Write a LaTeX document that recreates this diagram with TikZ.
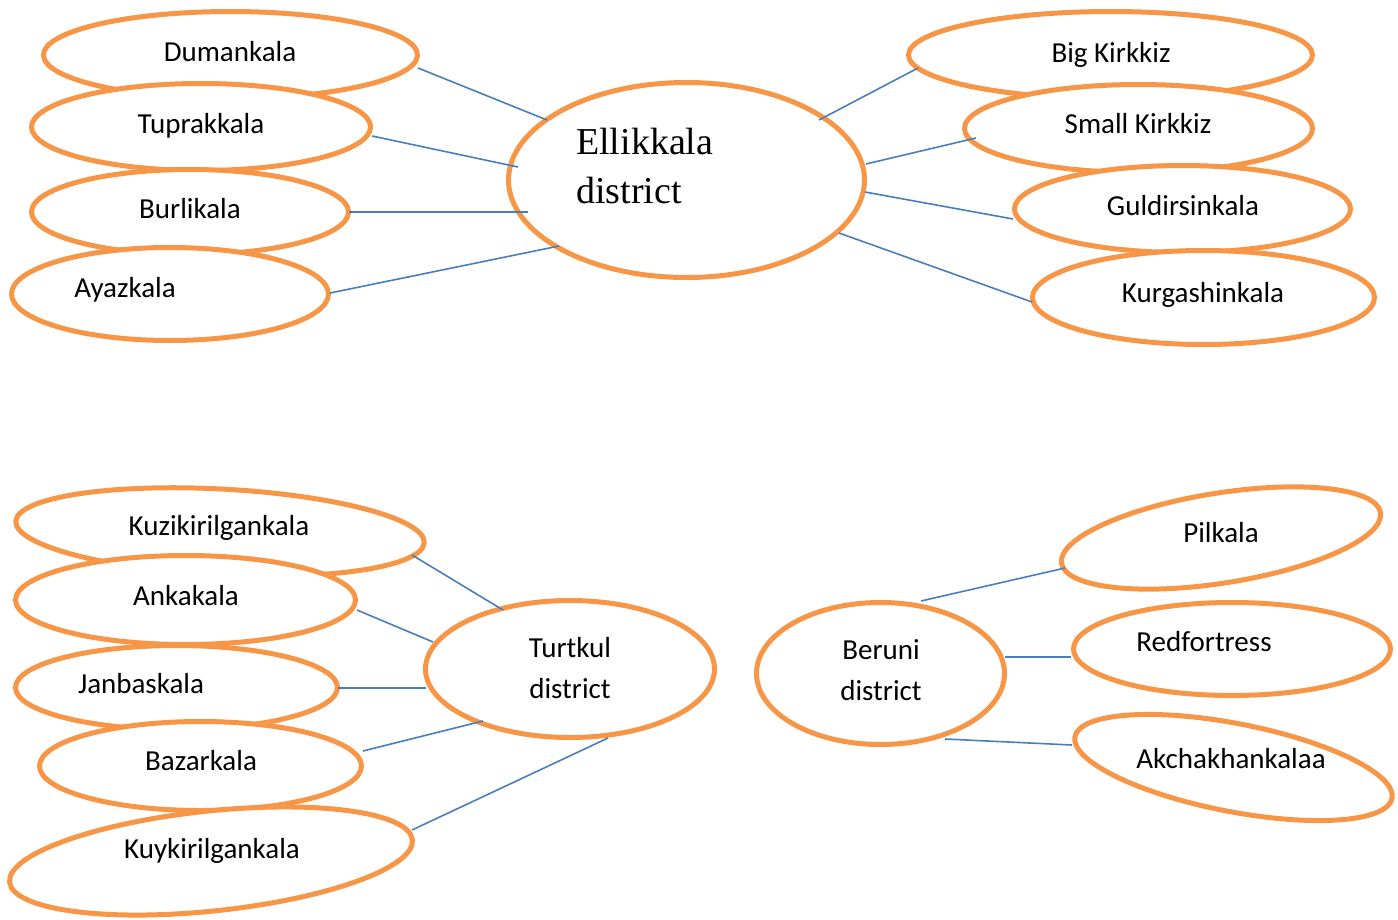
\documentclass[tikz,border=0pt]{standalone}
\usepackage{fontspec}
\setmainfont{Carlito}
\newfontfamily\tms{Liberation Serif}
\usetikzlibrary{shapes.geometric,calc}
\definecolor{ora}{HTML}{F79646}
\definecolor{lnk}{HTML}{4A7EBB}
\tikzset{
  oval/.style={ellipse, draw=ora, line width=5pt, fill=white, inner sep=0pt},
  lbl/.style={inner sep=0pt, anchor=base, font=\fontsize{29}{35}\selectfont},
  big/.style={inner sep=0pt, anchor=base west, font=\tms\fontsize{38}{46}\selectfont},
  link/.style={draw=lnk, line width=1.6pt}
}
\newcommand\ov[5]{\node[oval, minimum width=#3pt, minimum height=#4pt, rotate=#5] (#1) at (#2) {};}
\begin{document}
\begin{tikzpicture}[x=1pt,y=-1pt]
\useasboundingbox (0,0) rectangle (1398,919);
% top left
\ov{dum}{230.5,55}{374}{87}{0}
\ov{tup}{201,127}{339}{87}{0}
\ov{bur}{190,212}{317}{85}{0}
\ov{ayz}{170,294}{317}{93}{0}
\ov{ell}{686.5,180}{356}{195}{0}
% top right
\ov{bgk}{1110.5,55}{404}{87}{0}
\ov{smk}{1138.5,128.5}{348}{88}{0}
\ov{gul}{1182.5,209}{336}{87}{0}
\ov{kur}{1203.5,297.5}{342}{94}{0}
% bottom left
\ov{kuz}{220,532}{409}{86}{-3}
\ov{ank}{185.5,600}{340}{89}{0}
\ov{jan}{176.5,687.5}{322}{84}{0}
\ov{baz}{200.5,766}{322}{89}{0}
\ov{kuy}{211,861}{405}{100}{6}
\ov{tur}{570,669}{289}{137}{0}
% bottom right
\ov{ber}{880.5,673.5}{248}{142}{0}
\ov{pil}{1221,538}{323}{90}{9}
\ov{red}{1232,649}{317}{93}{0}
\ov{akc}{1233.5,767.5}{323}{88}{-11}
% texts
\node[lbl] (tdum) at (230,61) {Dumankala};
\node[lbl] (ttup) at (201,133) {Tuprakkala};
\node[lbl] (tbur) at (190,218) {Burlikala};
\node[lbl] (tayz) at (125,297) {Ayazkala};
\node[big] (tell1) at (576,154) {Ellikkala};
\node[big] (tell2) at (576,203) {district};
\node[lbl] (tbgk) at (1111,62) {Big Kirkkiz};
\node[lbl] (tsmk) at (1138,133) {Small Kirkkiz};
\node[lbl] (tgul) at (1183,215) {Guldirsinkala};
\node[lbl] (tkur) at (1203,302) {Kurgashinkala};
\node[lbl] (tkuz) at (219,535) {Kuzikirilgankala};
\node[lbl] (tank) at (186,605) {Ankakala};
\node[lbl] (tjan) at (141,693) {Janbaskala};
\node[lbl] (tbaz) at (201,770) {Bazarkala};
\node[lbl] (tkuy) at (212,858) {Kuykirilgankala};
\node[lbl] (ttur1) at (570,657) {Turtkul};
\node[lbl] (ttur2) at (570,698) {district};
\node[lbl] (tber1) at (881,659) {Beruni};
\node[lbl] (tber2) at (881,700) {district};
\node[lbl] (tpil) at (1221,542) {Pilkala};
\node[lbl] (tred) at (1204,651) {Redfortress};
\node[lbl] (takc) at (1231,768) {Akchakhankalaa};
% connectors
\newcommand\cn[4]{\draw[link] ($(#1.center)+(#2)$) -- ($(#3.center)+(#4)$);}
\cn{dum}{187.5,13}{ell}{-139.5,-60}
\cn{tup}{171,9}{ell}{-168.5,-13}
\cn{bur}{159,0}{ell}{-158.5,32}
\cn{ayz}{160,-1}{ell}{-127.5,66}
\cn{bgk}{-192.5,13}{ell}{132.5,-60}
\cn{smk}{-162.5,9.5}{ell}{179.5,-16}
\cn{gul}{-169.5,10}{ell}{178.5,12}
\cn{kur}{-171.5,4.5}{ell}{152.5,53}
\cn{kuz}{192,23}{tur}{-67,-59}
\cn{ank}{171.5,10}{tur}{-137,-27}
\cn{jan}{161.5,0.5}{tur}{-144,19}
\cn{baz}{162.5,-15}{tur}{-87,52}
\cn{kuy}{201,-31}{tur}{38,69}
\cn{pil}{-156,30}{ber}{40.5,-72.5}
\cn{red}{-161,8}{ber}{124.5,-16.5}
\cn{akc}{-161.5,-22.5}{ber}{64.5,65.5}
\end{tikzpicture}
\end{document}
